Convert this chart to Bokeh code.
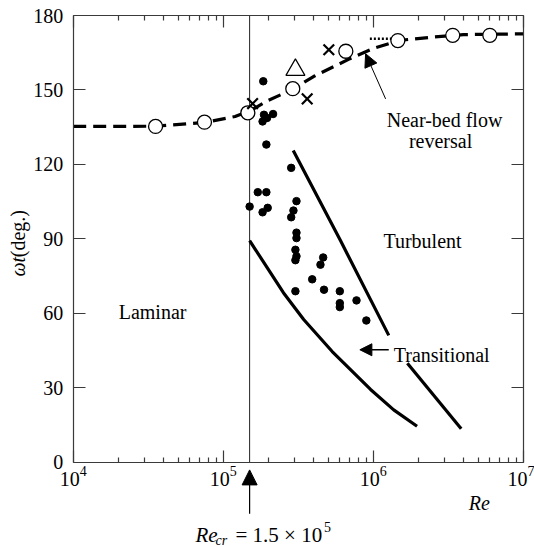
import math
from bokeh.plotting import figure
from bokeh.models import FixedTicker, LogAxis, LinearAxis, Label, Arrow, NormalHead
from bokeh.embed import file_html
from bokeh.resources import INLINE

# ---------------- data ----------------
# dashed "near-bed flow reversal" phase curve
curve_re = [1e4, 2e4, 3.5e4, 7.5e4, 1.2e5, 1.5e5, 2e5, 2.9e5, 4e5, 5.5e5, 7e5, 1e6, 1.5e6, 2.5e6, 4e6, 1e7]
curve_wt = [135.3, 135.3, 135.4, 136.9, 139.3, 141.5, 145.8, 150.2, 155.4, 159.5, 162.6, 166.7, 170.0, 171.3, 172.3, 172.6]

# dotted short segment
dotted_re = [9.5e5, 1.45e6]
dotted_wt = [170.6, 170.6]

# open circles
circ_re = [3.54e4, 7.5e4, 1.46e5, 2.91e5, 6.57e5, 1.46e6, 3.39e6, 5.99e6]
circ_wt = [135.3, 137.0, 140.8, 150.5, 165.6, 169.9, 172.0, 172.0]

# crosses
cross_re = [1.57e5, 5.06e5, 3.63e5]
cross_wt = [144.5, 166.2, 146.4]

# open triangle
tri_re = [3.03e5]
tri_wt = [158.1]

# filled dots
dot_re = [1.85e5, 1.87e5, 1.96e5, 2.15e5, 1.83e5, 1.94e5, 2.84e5, 1.70e5, 1.94e5, 1.50e5,
          1.98e5, 1.83e5, 3.08e5, 2.94e5, 2.84e5, 3.08e5, 3.08e5, 3.03e5, 3.08e5, 3.03e5,
          4.64e5, 4.45e5, 3.92e5, 3.03e5, 4.70e5, 5.99e5, 5.99e5, 5.99e5, 7.74e5, 9.00e5]
dot_wt = [153.5, 140.0, 138.7, 140.3, 137.3, 128.0, 118.6, 108.8, 108.8, 103.0,
          102.5, 100.7, 105.2, 101.4, 98.7, 92.5, 90.3, 85.6, 83.0, 81.4,
          82.5, 79.6, 73.7, 68.9, 69.5, 68.9, 64.1, 62.5, 65.2, 57.1]

# lower boundary of transitional region
low_re = [1.5e5, 2.52e5, 3.44e5, 5.33e5, 9.6e5, 1.37e6, 1.96e6]
low_wt = [89.3, 68.3, 57.5, 44.6, 29.3, 21.1, 14.5]

# upper boundary (two pieces, gap around label)
upA_re = [2.93e5, 6.05e5, 1.27e6]
upA_wt = [125.6, 89.3, 51.1]
upB_re = [1.69e6, 3.86e6]
upB_wt = [39.9, 13.5]

re_cr = 1.5e5

x_major = [1e4, 1e5, 1e6, 1e7]
y_major = [0, 30, 60, 90, 120, 150, 180]
x_minor = [m * d for d in [1e4, 1e5, 1e6] for m in range(2, 10)]

FONT = "Liberation Serif"

# ---------------- layout geometry (pixels) ----------------
W, H = 534, 547
FL, FR, FT, FB = 72.7, 522.7, 15.0, 461.7
dec_px = (FR - FL) / 3.0
ypp = 180.0 / (FB - FT)
x_lo = 10 ** (4 - FL / dec_px)
x_hi = 10 ** (7 + (W - FR) / dec_px)
y_lo = -(H - FB) * ypp
y_hi = 180 + FT * ypp

# ---------------- figure ----------------
p = figure(width=W, height=H, x_axis_type="log", x_range=(x_lo, x_hi), y_range=(y_lo, y_hi),
           output_backend="svg", toolbar_location=None,
           min_border_left=0, min_border_right=0, min_border_top=0, min_border_bottom=0)
p.grid.visible = False
p.outline_line_color = None
p.background_fill_color = "white"
p.border_fill_color = "white"

AX_COLOR = "#3a3a3a"

def style_axis(ax, labels=True):
    ax.axis_line_color = AX_COLOR
    ax.axis_line_width = 1.2
    ax.major_tick_line_color = AX_COLOR
    ax.minor_tick_line_color = AX_COLOR
    ax.major_tick_line_width = 1.2
    ax.minor_tick_line_width = 1.2
    ax.major_tick_in = 12
    ax.major_tick_out = 0
    ax.minor_tick_in = 5
    ax.minor_tick_out = 0
    ax.major_label_text_font = FONT
    ax.major_label_text_color = "black"
    if labels:
        ax.major_label_text_font_size = "20px"
    else:
        ax.major_label_text_font_size = "1px"
        ax.major_label_text_alpha = 0
        ax.major_label_standoff = 0

xb = p.xaxis[0]
xb.ticker = FixedTicker(ticks=x_major, minor_ticks=x_minor)
style_axis(xb)
xb.major_label_standoff = 4
xb.bounds = (1e4, 1e7)
xb.fixed_location = 0

yl = p.yaxis[0]
yl.ticker = FixedTicker(ticks=y_major)
style_axis(yl)
yl.major_label_standoff = 10
yl.bounds = (0, 180)
yl.fixed_location = 1e4

xt = LogAxis(ticker=FixedTicker(ticks=x_major, minor_ticks=x_minor))
style_axis(xt, labels=False)
xt.bounds = (1e4, 1e7)
xt.fixed_location = 180
p.add_layout(xt, "above")

yr = LinearAxis(ticker=FixedTicker(ticks=y_major))
style_axis(yr, labels=False)
yr.bounds = (0, 180)
yr.fixed_location = 1e7
p.add_layout(yr, "right")

# vertical critical Re line
p.line([re_cr, re_cr], [0, 180], line_color="#222222", line_width=1)

# boundaries
p.line(low_re, low_wt, line_color="black", line_width=3.2, line_join="round")
p.line(upA_re, upA_wt, line_color="black", line_width=3.2, line_join="round")
p.line(upB_re, upB_wt, line_color="black", line_width=3.2, line_join="round")

# dashed curve and dotted piece
p.line(curve_re, curve_wt, line_color="black", line_width=3.2, line_dash="13 7")
p.line(dotted_re, dotted_wt, line_color="black", line_width=2.5, line_dash="2 2")

# markers
p.scatter(dot_re, dot_wt, marker="circle", size=7.5, fill_color="black", line_color="black")
p.scatter(circ_re, circ_wt, marker="circle", size=14, fill_color="white", line_color="black", line_width=1.3)
p.scatter(cross_re, cross_wt, marker="x", size=15, line_color="black", line_width=2.2)
p.scatter(tri_re, tri_wt, marker="triangle", size=19, fill_color="white", line_color="black", line_width=1.2)

# arrows
p.add_layout(Arrow(end=NormalHead(size=13, fill_color="black", line_color="black", line_width=1),
                   x_start=1.21e6, y_start=146.4, x_end=8.9e5, y_end=164.6,
                   line_color="black", line_width=1))
p.add_layout(Arrow(end=NormalHead(size=12, fill_color="black", line_color="black", line_width=1),
                   x_start=1.27e6, y_start=45.3, x_end=8.15e5, y_end=45.3,
                   line_color="black", line_width=1.5))
p.add_layout(Arrow(end=NormalHead(size=15, fill_color="black", line_color="black", line_width=1),
                   x_start=re_cr, y_start=-20.8, x_end=re_cr, y_end=-3.1,
                   line_color="black", line_width=1.2))

def lab(x, y, text, size="20px", style="normal", align="left", baseline="alphabetic", angle=0.0):
    p.add_layout(Label(x=x, y=y, text=text, text_font=FONT, text_font_size=size,
                       text_font_style=style, text_align=align, text_baseline=baseline,
                       angle=angle, text_color="black"))

lab(2.01e4, 60.4, "Laminar")
lab(1.17e6, 89.3, "Turbulent")
lab(1.37e6, 43.0, "Transitional")
lab(1.23e6, 137.7, "Near-bed flow")
lab(1.73e6, 129.6, "reversal")

# axis titles
lab(4.34e6, -16.6, "Re", style="italic")
lab(4315, 74.8, "\u03c9t", style="italic", baseline="middle", angle=math.pi / 2)
lab(4315, 82.6, "(deg.)", baseline="middle", angle=math.pi / 2)

# Re_cr annotation
lab(6.53e4, -29.4, "Re", size="21px", style="italic")
lab(8.89e4, -31.4, "cr", size="14px", style="italic")
lab(1.207e5, -29.4, "= 1.5 \u00d7 10", size="21px")
lab(4.69e5, -26.0, "5", size="14px")

open("out.html", "w").write(file_html(p, INLINE))
